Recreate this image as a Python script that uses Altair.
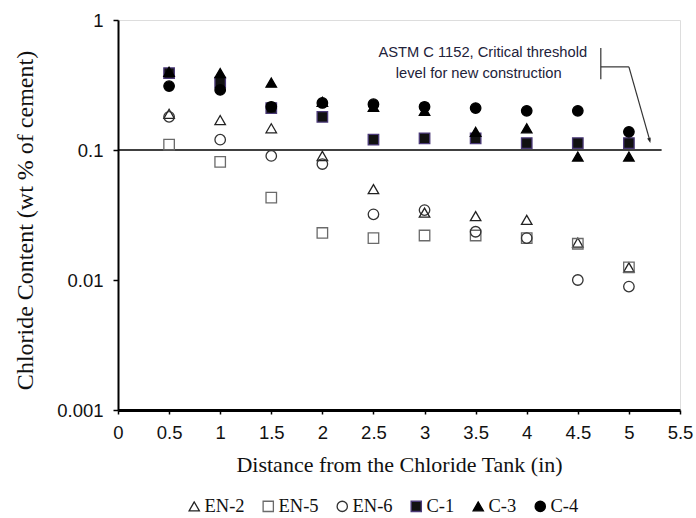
import altair as alt
import pandas as pd

# ---- data ----
distance = [0.5, 1, 1.5, 2, 2.5, 3, 3.5, 4, 4.5, 5]
series_names = ["EN-2", "EN-5", "EN-6", "C-1", "C-3", "C-4"]
en2 = [0.19, 0.17, 0.147, 0.09, 0.05, 0.033, 0.031, 0.029, 0.0194, 0.0125]
en5 = [0.11, 0.081, 0.043, 0.023, 0.021, 0.022, 0.022, 0.021, 0.019, 0.0125]
en6 = [0.18, 0.12, 0.09, 0.078, 0.032, 0.0345, 0.0235, 0.021, 0.01, 0.0089]
c1 = [0.39, 0.33, 0.21, 0.18, 0.12, 0.123, 0.123, 0.113, 0.113, 0.113]
c3 = [0.40, 0.39, 0.33, 0.235, 0.215, 0.20, 0.138, 0.147, 0.089, 0.089]
c4 = [0.31, 0.29, 0.215, 0.23, 0.225, 0.215, 0.21, 0.20, 0.20, 0.138]

x_ticks = [0, 0.5, 1, 1.5, 2, 2.5, 3, 3.5, 4, 4.5, 5, 5.5]
y_ticks = [0.001, 0.01, 0.1, 1]

threshold = 0.1
threshold_end = 5.32

annot_lines = ["ASTM C 1152, Critical threshold", "level for new construction"]
annot_x = [3.57, 3.53]
annot_y = [0.56, 0.385]

# arrow segments (annotation)
seg_x = [4.725, 4.725, 5.0]
seg_y = [0.61, 0.436, 0.436]
seg_x2 = [4.725, 5.0, 5.205]
seg_y2 = [0.35, 0.436, 0.118]
arrow_tip_x = [5.21]
arrow_tip_y = [0.113]

shapes = ["triangle-up", "square", "circle", "square", "triangle-up", "circle"]
fills = ["transparent", "transparent", "transparent", "#111111", "#000000", "#000000"]
strokes = ["#222222", "#6a6a6a", "#333333", "#4b3a78", "#000000", "#000000"]

rows = []
for name, vals in zip(series_names, [en2, en5, en6, c1, c3, c4]):
    for d, v in zip(distance, vals):
        rows.append({"series": name, "distance": d, "chloride": v})
df = pd.DataFrame(rows)

xscale = alt.Scale(domain=[0, 5.5], nice=False, zero=False)
yscale = alt.Scale(type="log", domain=[0.001, 1], nice=False)

x_axis = alt.Axis(
    values=x_ticks, format="~g", grid=False, labelFlush=False,
    domainColor="#000", domainWidth=2.8, tickColor="#000", tickSize=4, tickWidth=1.5,
    labelFont="Liberation Sans", labelFontSize=18.5, labelColor="#111", labelPadding=9,
    title="Distance from the Chloride Tank (in)", titleFont="Liberation Serif",
    titleFontSize=22, titleFontWeight="normal", titleColor="#111", titlePadding=13,
)
y_axis = alt.Axis(
    values=y_ticks, format="~g", grid=False,
    domainColor="#000", domainWidth=2, tickColor="#000", tickSize=5, tickWidth=1.5,
    labelFont="Liberation Sans", labelFontSize=18.5, labelColor="#111", labelPadding=10,
    title="Chloride Content (wt % of cement)", titleFont="Liberation Serif",
    titleFontSize=24, titleFontWeight="normal", titleColor="#111", titlePadding=19,
    titleY=200,
)

legend = alt.Legend(title=None, orient="none", legendX=67, legendY=477,
                    direction="horizontal", columns=6,
                    labelFont="Liberation Serif", labelFontSize=18.5,
                    labelColor="#111", symbolSize=105,
                    symbolStrokeWidth=1.3, labelOffset=1,
                    columnPadding=14)

points = alt.Chart(df).mark_point(opacity=1, strokeWidth=1.3, size=110).encode(
    x=alt.X("distance:Q", scale=xscale, axis=x_axis),
    y=alt.Y("chloride:Q", scale=yscale, axis=y_axis),
    shape=alt.Shape("series:N", scale=alt.Scale(domain=series_names, range=shapes), legend=legend),
    fill=alt.Fill("series:N", scale=alt.Scale(domain=series_names, range=fills), legend=legend),
    stroke=alt.Stroke("series:N", scale=alt.Scale(domain=series_names, range=strokes), legend=legend),
    order=alt.Order("order:Q"),
).transform_calculate(order="indexof(%s, datum.series)" % str(series_names))

thr_df = pd.DataFrame({"y": [threshold], "x": [0], "x2": [threshold_end]})
thr = alt.Chart(thr_df).mark_rule(color="#000", strokeWidth=1.3).encode(
    x=alt.X("x:Q", scale=xscale), x2="x2:Q", y=alt.Y("y:Q", scale=yscale)
)

ann_df = pd.DataFrame({"t": annot_lines, "x": annot_x, "y": annot_y})
ann = alt.Chart(ann_df).mark_text(font="Liberation Sans", fontSize=14.7, color="#22223a",
                                  align="center", baseline="middle").encode(
    x=alt.X("x:Q", scale=xscale), y=alt.Y("y:Q", scale=yscale), text="t:N"
)

seg_df = pd.DataFrame({"x": seg_x, "y": seg_y, "x2": seg_x2, "y2": seg_y2})
segs = alt.Chart(seg_df).mark_rule(color="#333", strokeWidth=1.2).encode(
    x=alt.X("x:Q", scale=xscale), y=alt.Y("y:Q", scale=yscale), x2="x2:Q", y2="y2:Q"
)

tip_df = pd.DataFrame({"x": arrow_tip_x, "y": arrow_tip_y})
tip = alt.Chart(tip_df).mark_point(
    shape="M0,0 L-0.35,-1 L0.35,-1 Z", filled=True, color="#222", opacity=1,
    size=110, angle=344
).encode(x=alt.X("x:Q", scale=xscale), y=alt.Y("y:Q", scale=yscale))

chart = alt.layer(thr, segs, tip, ann, points).properties(
    width=562, height=390,
    autosize=alt.AutoSizeParams(type="none"),
    padding={"left": 118, "top": 20, "right": 16, "bottom": 108},
).configure_view(stroke=None).configure(background="white")

chart.save("out.html", embed_options={"renderer": "svg", "actions": False})
